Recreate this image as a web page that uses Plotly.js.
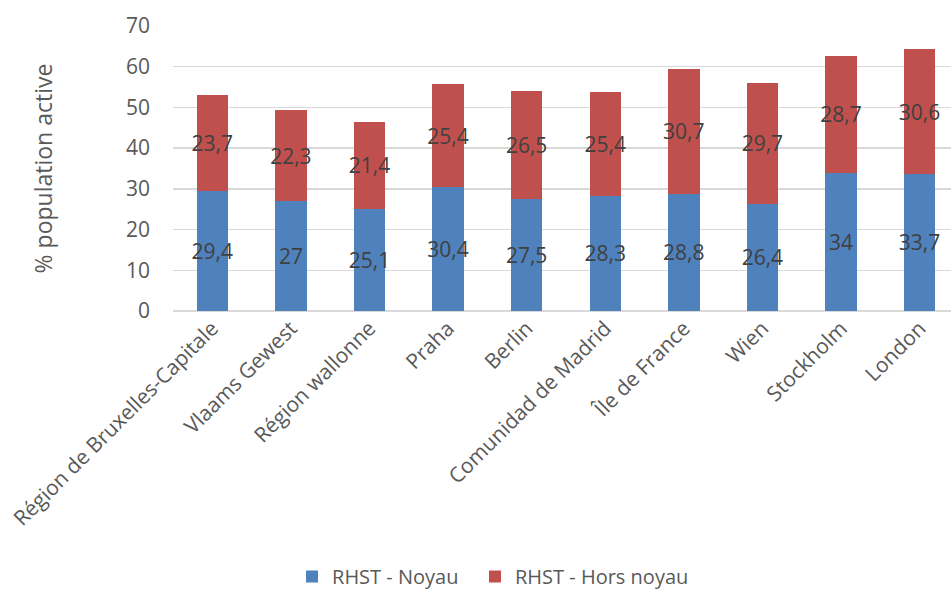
<!DOCTYPE html>
<html><head><meta charset="utf-8">
<script src="https://cdn.plot.ly/plotly-3.0.1.min.js"></script>
<style>html,body{margin:0;padding:0;background:#fff;}</style>
</head><body>
<div id="chart" style="width:951px;height:596px;"></div>
<script>
const categories = ["Région de Bruxelles-Capitale","Vlaams Gewest","Région wallonne","Praha","Berlin","Comunidad de Madrid","Île de France","Wien","Stockholm","London"];
const noyau = [29.4, 27, 25.1, 30.4, 27.5, 28.3, 28.8, 26.4, 34, 33.7];
const horsNoyau = [23.7, 22.3, 21.4, 25.4, 26.5, 25.4, 30.7, 29.7, 28.7, 30.6];
const yTicks = [0,10,20,30,40,50,60,70];

const fmt = v => String(v).replace('.', ',');
const FONT = '"Open Sans", sans-serif';

const common = {type:'bar', x: categories, width: 0.4, textposition:'inside', insidetextanchor:'middle',
  textfont:{family:FONT, size:21, color:'#404040'}, hoverinfo:'y+name', cliponaxis:false, textangle:0, constraintext:'none'};

const traces = [
  Object.assign({}, common, {name:'RHST - Noyau', y: noyau, text: noyau.map(fmt),
    marker:{color:'#4F81BD'}, legend:'legend'}),
  Object.assign({}, common, {name:'RHST - Hors noyau', y: horsNoyau, text: horsNoyau.map(fmt),
    marker:{color:'#C0504D'}, legend:'legend2'})
];

const legBase = {orientation:'h', xanchor:'left', y:-0.934, yanchor:'middle',
  font:{size:20, color:'#595959'}, itemwidth:30, bgcolor:'rgba(0,0,0,0)'};

const layout = {
  width:951, height:596,
  margin:{l:173, r:0, t:26, b:282},
  barmode:'stack',
  paper_bgcolor:'#fff', plot_bgcolor:'#fff',
  font:{family:FONT, color:'#595959', size:20},
  xaxis:{range:[-0.5, 9.4], tickangle:-45, tickfont:{size:21, color:'#595959'}, showgrid:false,
    showline:false, ticks:'', automargin:false},
  yaxis:{range:[0,70], tickvals:yTicks, ticktext:yTicks.map(String), showgrid:true, gridcolor:'#d9d9d9', gridwidth:1.5,
    zeroline:true, zerolinecolor:'#d9d9d9', zerolinewidth:1.5, ticks:'', ticklabelstandoff:22,
    tickfont:{size:21, color:'#595959'},
    title:{text:'% population active', font:{size:23, color:'#595959'}, standoff:66}, automargin:false},
  legend: Object.assign({}, legBase, {x:0.153}),
  legend2: Object.assign({}, legBase, {x:0.3882}),
  showlegend:true
};
Plotly.newPlot('chart', traces, layout, {displayModeBar:false, staticPlot:true});
</script>
</body></html>
